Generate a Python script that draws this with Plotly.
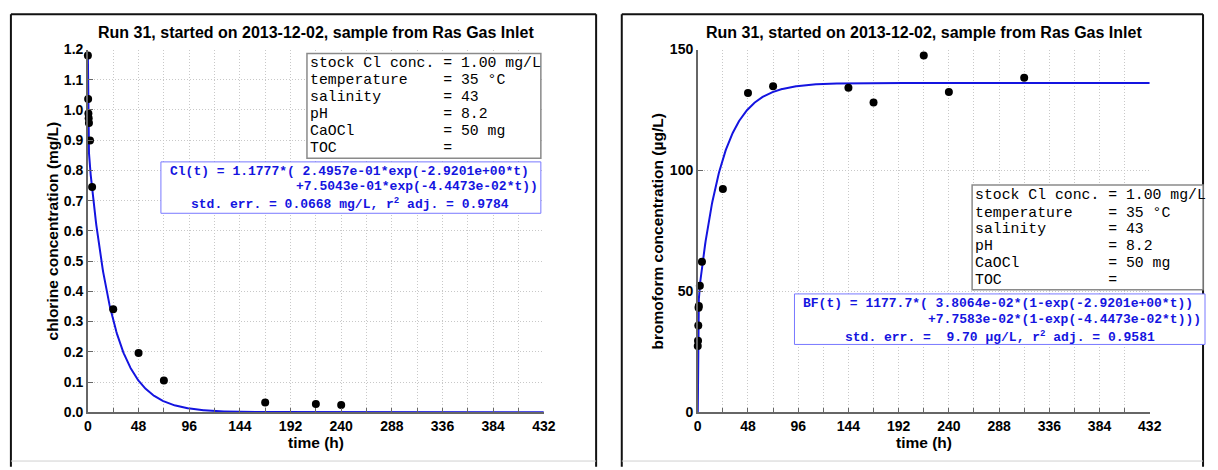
import numpy as np
import plotly.graph_objects as go

W, H = 1218, 470

# Free chlorine measurements (mg/L) versus time (h)
cl_time_h = [0, 0.25, 0.5, 0.75, 1, 2, 4, 24, 48, 72, 168, 216, 240]
cl_conc_mgL = [1.180, 1.036, 0.988, 0.973, 0.957, 0.899, 0.745, 0.341, 0.196, 0.105, 0.032, 0.027, 0.024]

# Bromoform measurements (µg/L) versus time (h)
bf_time_h = [0, 0.25, 0.5, 0.75, 1, 2, 4, 24, 48, 72, 144, 168, 216, 240, 312]
bf_conc_ugL = [27.4, 29.6, 35.9, 43.2, 43.9, 52.3, 62.2, 92.3, 132.0, 134.8, 134.2, 128.1, 147.5, 132.4, 138.3]

# Two-rate fit parameters (rates in 1/h)
fit_rates = [2.9201, 0.044473]
cl_fit_scale = 1.1777
cl_fit_weights = [0.24957, 0.75043]
bf_fit_scale = 1177.7
bf_fit_weights = [0.038064, 0.077583]
cl_fit_stderr, cl_fit_r2adj = 0.0668, 0.9784
bf_fit_stderr, bf_fit_r2adj = 9.70, 0.9581

# Axis ticks
time_ticks = [0, 48, 96, 144, 192, 240, 288, 336, 384, 432]
time_tick_labels = ["0", "48", "96", "144", "192", "240", "288", "336", "384", "432"]
cl_ticks = [0.0, 0.1, 0.2, 0.3, 0.4, 0.5, 0.6, 0.7, 0.8, 0.9, 1.0, 1.1, 1.2]
cl_tick_labels = ["0.0", "0.1", "0.2", "0.3", "0.4", "0.5", "0.6", "0.7", "0.8", "0.9", "1.0", "1.1", "1.2"]
bf_ticks = [0, 50, 100, 150]
bf_tick_labels = ["0", "50", "100", "150"]

# Run conditions listed in the info boxes
cond_names = ["stock Cl conc.", "temperature", "salinity", "pH", "CaOCl", "TOC"]
cond_values = ["1.00 mg/L", "35 °C", "43", "8.2", "50 mg", ""]

title_text = "Run 31, started on 2013-12-02, sample from Ras Gas Inlet"

# Fitted model curves
t_fit = np.unique(np.concatenate([np.linspace(0, 6, 301), np.linspace(6, 432, 853)]))
cl_fit = cl_fit_scale * sum(w * np.exp(-k * t_fit) for w, k in zip(cl_fit_weights, fit_rates))
bf_fit = bf_fit_scale * sum(w * (1 - np.exp(-k * t_fit)) for w, k in zip(bf_fit_weights, fit_rates))


def fx(px):
    return px / W


def fy(py):
    return 1 - py / H


NB = "\u00a0"
MONO = "Liberation Mono, Courier New, monospace"
SANS = "Liberation Sans, Arial, Helvetica, sans-serif"
BLUE = "#1414e0"
GRID = "#c8c8c8"
GRID_DASH = "1px,2px"
AXC = "#666666"


def mono(s):
    return s.replace(" ", NB)


PLOT_TOP, PLOT_BOTTOM = 43, 418.5
LEFT_X = (85, 547)
RIGHT_X = (703, 1161)

fig = go.Figure()

fig.add_trace(go.Scatter(x=t_fit, y=cl_fit, mode="lines", line=dict(color=BLUE, width=2),
                         xaxis="x", yaxis="y", showlegend=False))
fig.add_trace(go.Scatter(x=cl_time_h, y=cl_conc_mgL, mode="markers",
                         marker=dict(color="black", size=8), cliponaxis=False,
                         xaxis="x", yaxis="y", showlegend=False))
fig.add_trace(go.Scatter(x=t_fit, y=bf_fit, mode="lines", line=dict(color=BLUE, width=2),
                         xaxis="x2", yaxis="y2", showlegend=False))
fig.add_trace(go.Scatter(x=bf_time_h, y=bf_conc_ugL, mode="markers",
                         marker=dict(color="black", size=8), cliponaxis=False,
                         xaxis="x2", yaxis="y2", showlegend=False))


def base_axis():
    return dict(showline=True, linecolor=AXC, linewidth=1.5, ticks="inside", ticklen=5,
                tickcolor=AXC, tickwidth=1, showgrid=True, gridcolor=GRID, gridwidth=1,
                griddash=GRID_DASH, zeroline=False, mirror=False, fixedrange=True,
                tickfont=dict(family=SANS, size=14, color="black", weight="bold"))


def time_axis(xr, anchor):
    ax = base_axis()
    ax.update(domain=[fx(xr[0]), fx(xr[1])], range=[0, 432], anchor=anchor,
              tickmode="array", tickvals=time_ticks, ticktext=time_tick_labels,
              minor=dict(tick0=0, dtick=24, ticks="inside", ticklen=5, tickcolor=AXC,
                         showgrid=True, gridcolor=GRID, griddash=GRID_DASH, gridwidth=1))
    return ax


def conc_axis(rng, vals, labels, anchor):
    ax = base_axis()
    ax.update(domain=[fy(PLOT_BOTTOM), fy(PLOT_TOP)], range=rng, anchor=anchor,
              tickmode="array", tickvals=vals, ticktext=labels)
    return ax


fig.update_layout(
    width=W, height=H,
    margin=dict(l=0, r=0, t=0, b=0),
    paper_bgcolor="white", plot_bgcolor="white",
    xaxis=time_axis(LEFT_X, "y"),
    yaxis=conc_axis([0, 1.2], cl_ticks, cl_tick_labels, "x"),
    xaxis2=time_axis(RIGHT_X, "y2"),
    yaxis2=conc_axis([0, 150], bf_ticks, bf_tick_labels, "x2"),
)

shapes = []
annots = []

# Panel frames
for x0, x1 in [(7, 600), (626, 1215)]:
    for (a, b, c, d) in [(x0, 6.5, x1, 6.5), (x0, 6.5, x0, 475), (x1, 6.5, x1, 475)]:
        shapes.append(dict(type="line", xref="paper", yref="paper",
                           x0=fx(a), y0=fy(b), x1=fx(c), y1=fy(d),
                           line=dict(color="#111111", width=2)))
    shapes.append(dict(type="line", xref="paper", yref="paper",
                       x0=fx(x0), y0=fy(469), x1=fx(x1), y1=fy(469),
                       line=dict(color="#d0d0d0", width=1)))


def add_text(text, x, y, size, color="black", family=SANS, weight="normal",
             xanchor="center", angle=0):
    annots.append(dict(text=text, x=fx(x), y=fy(y), xref="paper", yref="paper",
                       xanchor=xanchor, yanchor="middle", showarrow=False,
                       textangle=angle, borderpad=0,
                       font=dict(family=family, size=size, color=color, weight=weight)))


def info_box(left, top, right, bottom, text_x, line_ys):
    shapes.append(dict(type="rect", xref="paper", yref="paper", layer="above",
                       x0=fx(left), y0=fy(bottom), x1=fx(right), y1=fy(top),
                       line=dict(color="#8a8a8a", width=1.5), fillcolor="white"))
    for name, val, yy in zip(cond_names, cond_values, line_ys):
        line = f"{name:<15}= {val}".rstrip()
        add_text(mono(line), text_x, yy, 14.8, family=MONO, xanchor="left")


def eq_box(left, top, right, bottom, lines):
    shapes.append(dict(type="rect", xref="paper", yref="paper", layer="above",
                       x0=fx(left), y0=fy(bottom), x1=fx(right), y1=fy(top),
                       line=dict(color="#7878ff", width=1), fillcolor="white"))
    for text, xx, yy in lines:
        add_text(text, xx, yy, 13, color=BLUE, family=MONO, weight="bold", xanchor="left")


# Left panel: chlorine decay
add_text(title_text, 316, 25.5, 16, weight="bold")
add_text("time (h)", 316, 450, 15.5, weight="bold")
add_text("chlorine concentration (mg/L)", 49, 231, 15.5, weight="bold", angle=-90)
info_box(307, 47, 544, 155.5, 309, [56.7, 74.3, 91.8, 109.4, 127.0, 144.6])
cl_lines = [
    (mono(f"Cl(t) = {cl_fit_scale:.4f}*( {cl_fit_weights[0]:.4e}*exp({-fit_rates[0]:.4e}*t)"), 167, 169.3),
    (mono(f"+{cl_fit_weights[1]:.4e}*exp({-fit_rates[1]:.4e}*t))"), 295, 185),
    (mono(f"std. err. = {cl_fit_stderr:.4f} mg/L, r") + "<sup>2</sup>" +
     mono(f" adj. = {cl_fit_r2adj:.4f}"), 188, 202),
]
eq_box(159, 159.3, 544, 212.5, cl_lines)

# Right panel: bromoform formation
add_text(title_text, 932, 25.5, 16, weight="bold")
add_text("time (h)", 932, 450, 15.5, weight="bold")
add_text("bromoform concentration (µg/L)", 662, 231, 15.5, weight="bold", angle=-90)
info_box(981, 183.3, 1215, 291.7, 983, [194, 212.3, 229.3, 246.7, 264.3, 281.7])
bf_lines = [
    (mono(f"BF(t) = {bf_fit_scale:.1f}*( {bf_fit_weights[0]:.4e}*(1-exp({-fit_rates[0]:.4e}*t))"), 809, 306.3),
    (mono(f"+{bf_fit_weights[1]:.4e}*(1-exp({-fit_rates[1]:.4e}*t)))"), 935, 322.7),
    (mono(f"std. err. = {bf_fit_stderr:5.2f} µg/L, r") + "<sup>2</sup>" +
     mono(f" adj. = {bf_fit_r2adj:.4f}"), 851, 340),
]
eq_box(801, 296, 1217, 348.3, bf_lines)

fig.update_layout(shapes=shapes, annotations=annots)

fig.write_html("out.html", config={"displayModeBar": False})
